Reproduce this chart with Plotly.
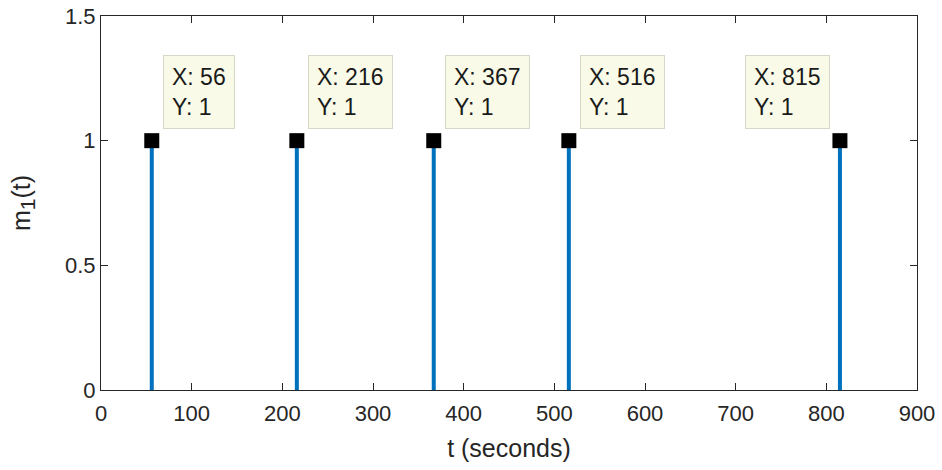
import plotly.graph_objects as go

# Data
t_values = [56, 216, 367, 516, 815]
m_values = [1, 1, 1, 1, 1]
x_ticks = [0, 100, 200, 300, 400, 500, 600, 700, 800, 900]
y_ticks = [0, 0.5, 1, 1.5]
y_tick_labels = ["0", "0.5", "1", "1.5"]

stem_x, stem_y = [], []
for t, m in zip(t_values, m_values):
    stem_x += [t, t, None]
    stem_y += [0, m, None]

FONT = "Liberation Sans, Arial, Helvetica, sans-serif"
AX = "#262626"

fig = go.Figure()
fig.add_trace(go.Scatter(x=stem_x, y=stem_y, mode="lines",
                         line=dict(color="#0072BD", width=4),
                         showlegend=False, hoverinfo="skip"))
fig.add_trace(go.Scatter(x=t_values, y=m_values, mode="markers",
                         marker=dict(symbol="square", color="black", size=15,
                                     line=dict(width=0)),
                         showlegend=False))

for i, (t, m) in enumerate(zip(t_values, m_values)):
    flip = (i == len(t_values) - 1)
    fig.add_annotation(
        x=t, y=m, xref="x", yref="y",
        text=f"X: {t}<br>Y: {m}",
        showarrow=False,
        xanchor="right" if flip else "left",
        yanchor="bottom",
        xshift=-10 if flip else 11,
        yshift=12,
        align="left",
        font=dict(family=FONT, size=23, color="#1a1a1a"),
        bgcolor="#FAFAE8",
        bordercolor="#D8D8C8",
        borderwidth=1,
        borderpad=8,
    )

axis_common = dict(
    showline=True, linecolor=AX, linewidth=1, mirror="ticks",
    ticks="inside", ticklen=7, tickcolor=AX, tickwidth=1,
    showgrid=False, zeroline=False, automargin=False,
    tickfont=dict(family=FONT, size=22, color=AX),
    title_font=dict(family=FONT, size=25, color=AX),
)

fig.update_xaxes(range=[0, 900], tickvals=x_ticks, ticklabelstandoff=4,
                 title_text="t (seconds)", title_standoff=14, **axis_common)
fig.update_yaxes(range=[0, 1.5], tickvals=y_ticks, ticktext=y_tick_labels,
                 title_text="m<sub><span style='font-size:21px'>1</span></sub>(t)",
                 title_standoff=27, **axis_common)

fig.update_layout(
    width=942, height=470,
    margin=dict(l=101, r=25, t=16, b=80, autoexpand=False),
    plot_bgcolor="white", paper_bgcolor="white",
)

fig.write_html("out.html", config={"displayModeBar": False},
               post_script="document.body.style.margin='0';document.body.style.overflow='hidden';")
